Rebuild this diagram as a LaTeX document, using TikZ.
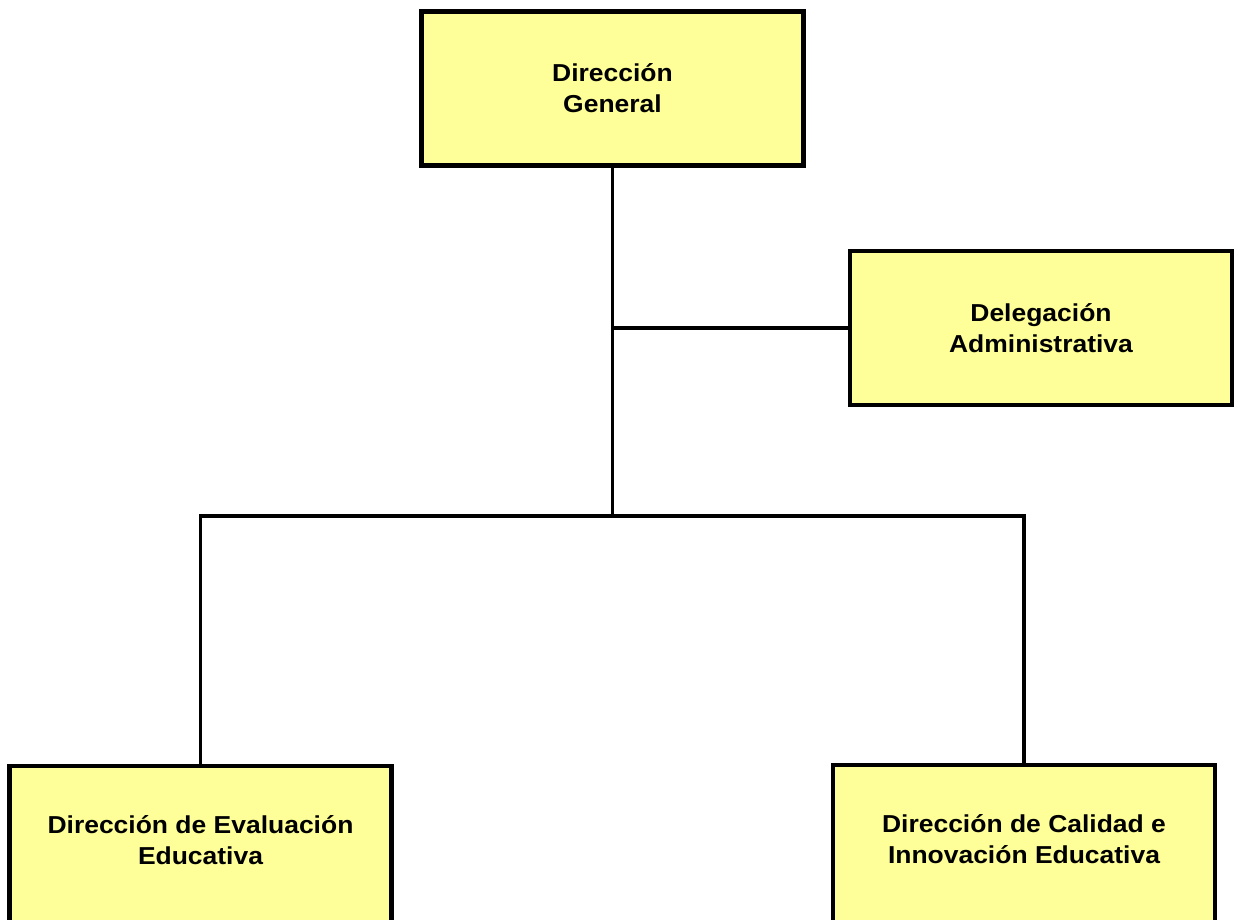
\documentclass[tikz,border=0pt]{standalone}
\usepackage{fontspec}
\setmainfont[FakeStretch=1.08]{Liberation Sans}
\definecolor{boxyellow}{RGB}{255,255,153}
\begin{document}
\begin{tikzpicture}[x=1pt,y=-1pt,
  orgbox/.style={draw=black, line width=4.5pt, fill=boxyellow, inner sep=0pt,
    minimum width=382pt, minimum height=154pt, align=center,
    font=\fontsize{24.5}{31}\selectfont\bfseries},
  link/.style={draw=black, line width=3.5pt}]
\useasboundingbox (0,0) rectangle (1234,919);
\node[orgbox] (dg) at (612.5,88.5) {Dirección\\General};
\node[orgbox] (da) at (1041,328) {Delegación\\Administrativa};
\node[orgbox, minimum height=158pt] (dee) at (200.5,845) {Dirección de Evaluación\\Educativa\\[-21pt]};
\node[orgbox, minimum height=158pt] (dci) at (1024,844) {Dirección de Calidad e\\Innovación Educativa\\[-21pt]};
\coordinate (jn) at (612.5,516);
\draw[link] (dg.south) -- (jn);
\draw[link] (dg.south |- da.west) -- (da.west);
\draw[link] (dee.north) |- (jn) -| (dci.north);
\end{tikzpicture}
\end{document}
